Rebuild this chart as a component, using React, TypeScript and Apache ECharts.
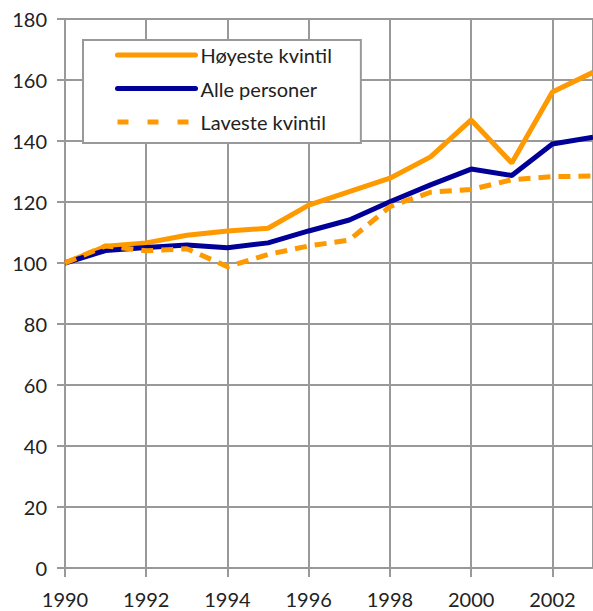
import React, { useEffect, useRef } from "react";
import * as echarts from "echarts";

const years = [1990, 1991, 1992, 1993, 1994, 1995, 1996, 1997, 1998, 1999, 2000, 2001, 2002, 2003];
const hoyeste = [100, 105.5, 106.6, 109.1, 110.5, 111.4, 119, 123.4, 127.8, 134.8, 146.9, 132.8, 156.1, 162.5];
const alle = [100, 104.1, 105.1, 105.9, 105.0, 106.6, 110.5, 114.1, 120.1, 125.6, 130.8, 128.7, 139.0, 141.2];
const laveste = [100, 105.6, 104.0, 104.7, 98.8, 102.8, 105.6, 107.5, 118.5, 123.2, 124.1, 127.3, 128.3, 128.5];
const seriesNames = ["Høyeste kvintil", "Alle personer", "Laveste kvintil"];

const ORANGE = "#ff9900";
const BLUE = "#000099";
const GRAY = "#999999";
const FONT = "Lato";

export default function App() {
  const ref = useRef<HTMLDivElement>(null);
  useEffect(() => {
    if (!ref.current) return;
    const chart = echarts.init(ref.current, null, { renderer: "svg" });
    const pairs = (vals: number[]) => years.map((y, i) => [y, vals[i]]);
    const hidden = { opacity: 0 };
    chart.setOption({
      animation: false,
      textStyle: { fontFamily: FONT },
      grid: { left: 65, top: 19, width: 530, height: 549, containLabel: false },
      legend: {
        orient: "vertical",
        left: 83,
        top: 40,
        padding: [4, 29, 10, 32],
        backgroundColor: "#ffffff",
        borderColor: GRAY,
        borderWidth: 2,
        borderRadius: 0,
        itemWidth: 78,
        itemHeight: 22,
        itemGap: 11.5,
        textStyle: { fontFamily: FONT, fontSize: 20, lineHeight: 22, color: "#222" },
        data: [
          { name: seriesNames[0], itemStyle: hidden, lineStyle: { color: ORANGE, width: 5, type: "solid", cap: "round" } },
          { name: seriesNames[1], itemStyle: hidden, lineStyle: { color: BLUE, width: 5, type: "solid", cap: "round" } },
          { name: seriesNames[2], itemStyle: hidden, lineStyle: { color: ORANGE, width: 5, type: [11, 19] } },
        ],
      },
      xAxis: {
        type: "value",
        min: 1990,
        max: 2003,
        interval: 2,
        axisLine: { show: true, lineStyle: { color: GRAY, width: 2 } },
        axisTick: { show: true, length: 9, lineStyle: { color: GRAY, width: 2 } },
        splitLine: { show: true, lineStyle: { color: GRAY, width: 2 } },
        axisLabel: {
          margin: 21,
          fontSize: 20,
          color: "#222",
          fontFamily: FONT,
          showMaxLabel: false,
          formatter: (v: number) => String(v),
        },
      },
      yAxis: {
        type: "value",
        min: 0,
        max: 180,
        interval: 20,
        axisLine: { show: true, lineStyle: { color: GRAY, width: 2 } },
        axisTick: { show: true, length: 8, lineStyle: { color: GRAY, width: 2 } },
        splitLine: { show: true, lineStyle: { color: GRAY, width: 2 } },
        axisLabel: { margin: 18, fontSize: 20, color: "#222", fontFamily: FONT },
      },
      series: [
        {
          name: seriesNames[0],
          type: "line",
          data: pairs(hoyeste),
          symbol: "none",
          lineStyle: { color: ORANGE, width: 5 },
          itemStyle: { color: ORANGE },
        },
        {
          name: seriesNames[1],
          type: "line",
          data: pairs(alle),
          symbol: "none",
          lineStyle: { color: BLUE, width: 5 },
          itemStyle: { color: BLUE },
        },
        {
          name: seriesNames[2],
          type: "line",
          data: pairs(laveste),
          symbol: "none",
          lineStyle: { color: ORANGE, width: 5, type: [12, 8] },
          itemStyle: { color: ORANGE },
        },
      ],
    });
    return () => chart.dispose();
  }, []);
  return <div ref={ref} style={{ width: 593, height: 611, position: "absolute", left: 0, top: 0 }} />;
}
